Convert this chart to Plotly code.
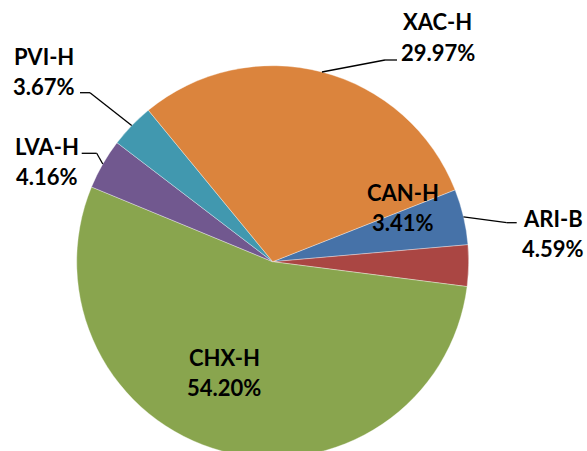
import math
import plotly.graph_objects as go

# ---- data ----
labels = ["ARI-B", "CAN-H", "CHX-H", "LVA-H", "PVI-H", "XAC-H"]
values = [4.59, 3.41, 54.20, 4.16, 3.67, 29.97]
pct_text = ["4.59%", "3.41%", "54.20%", "4.16%", "3.67%", "29.97%"]
colors = ["#4672A8", "#AA4643", "#89A54E", "#71588F", "#4198AF", "#DB843D"]

# ---- layout geometry (pixels) ----
W, H = 587, 458
CX, CY, R = 272.7, 261.7, 196
ROT = 68.5
FONT = "Lato, 'Open Sans', sans-serif"
FS = 22
LINE_GAP = 30.5

label_pos = {
    "ARI-B": (553, 233.5),
    "CAN-H": (403, 207.5),
    "CHX-H": (224, 372.5),
    "LVA-H": (46.5, 161.5),
    "PVI-H": (44, 71.5),
    "XAC-H": (437.5, 37),
}
# leader: (end_x, end_y, elbow_x)
leaders = {
    "ARI-B": (516.7, 222.7, 506.7),
    "LVA-H": (81.7, 153.3, 96.7),
    "PVI-H": (80, 92.7, 90),
    "XAC-H": (397, 60, 385),
}


def px(x):
    return x / W


def py(y):
    return 1 - y / H


fig = go.Figure(
    go.Pie(
        labels=labels,
        values=values,
        sort=False,
        direction="clockwise",
        rotation=ROT,
        textinfo="none",
        hoverinfo="label+percent",
        marker=dict(colors=colors, line=dict(color="rgba(255,255,255,0.6)", width=0.6)),
        domain=dict(x=[px(CX - R), px(CX + R)], y=[max(0, py(CY + R)), py(CY - R)]),
        showlegend=False,
    )
)

annotations = []
for lab, pt in zip(labels, pct_text):
    x, y = label_pos[lab]
    for txt, yy in ((lab, y - LINE_GAP / 2), (pt, y + LINE_GAP / 2)):
        annotations.append(
            dict(
                x=px(x), y=py(yy), xref="paper", yref="paper",
                text=txt, showarrow=False, xanchor="center", yanchor="middle",
                font=dict(family=FONT, size=FS, color="#000000", weight="bold"),
            )
        )

shapes = []
total = sum(values)
cum = 0
for lab, v in zip(labels, values):
    mid = math.radians(ROT + 360 * (cum + v / 2) / total)
    cum += v
    if lab not in leaders:
        continue
    ax = CX + R * math.sin(mid)
    ay = CY - R * math.cos(mid)
    ex, ey, bx = leaders[lab]
    for (x0, y0, x1, y1) in ((ax, ay, bx, ey), (bx, ey, ex, ey)):
        shapes.append(
            dict(type="line", xref="paper", yref="paper",
                 x0=px(x0), y0=py(y0), x1=px(x1), y1=py(y1),
                 line=dict(color="#000000", width=1.3))
        )

fig.update_layout(
    width=W, height=H,
    margin=dict(l=0, r=0, t=0, b=0),
    paper_bgcolor="#ffffff",
    plot_bgcolor="#ffffff",
    annotations=annotations,
    shapes=shapes,
)

fig.write_html(
    "out.html",
    config={"displayModeBar": False},
    post_script="document.body.style.margin='0';document.body.style.overflow='hidden';"
                "document.documentElement.style.overflow='hidden';",
)
